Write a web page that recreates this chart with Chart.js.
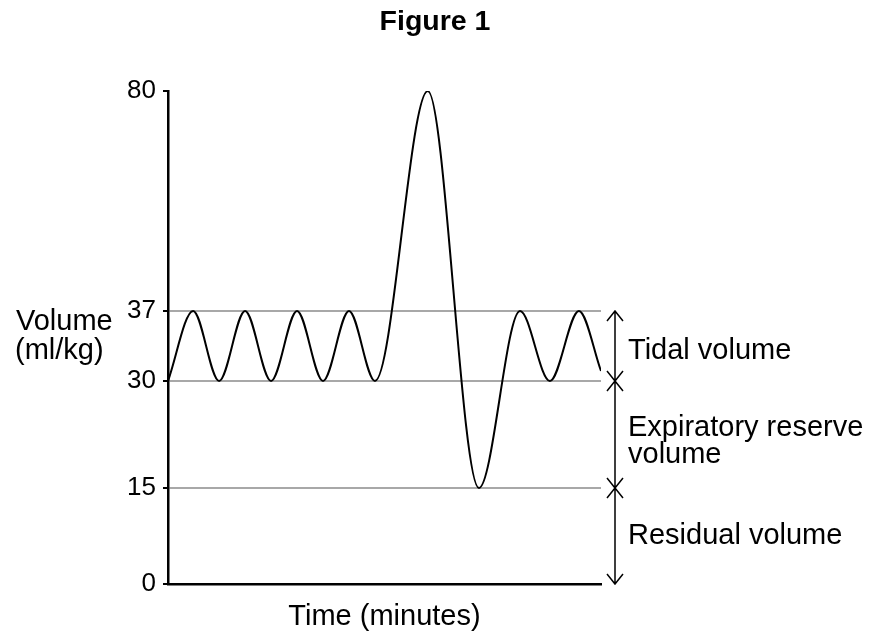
<!DOCTYPE html>
<html>
<head>
<meta charset="utf-8">
<script src="https://cdn.jsdelivr.net/npm/chart.js@4.4.0/dist/chart.umd.min.js"></script>
<style>
  html, body { margin: 0; padding: 0; background: #fff; }
</style>
</head>
<body>
<canvas id="volumeChart" width="870" height="637"></canvas>
<script>
// values
const timePoints = [0, 5.8, 11.8, 17.8, 23.8, 29.8, 35.8, 41.8, 47.8, 60, 71.8, 81.3, 88.2, 94.9, 100];
const volumes = [30, 37, 30, 37, 30, 37, 30, 37, 30, 80, 15, 37, 30, 37, 31];
const yTicks = [0, 15, 30, 37, 80];
const gridValues = [15, 30, 37];
const regionBounds = [[30, 37], [15, 30], [0, 15]];
const regionNames = [["Tidal volume"], ["Expiratory reserve", "volume"], ["Residual volume"]];

const FONT = "'Liberation Sans', Arial, sans-serif";
const labelShift = [5, 7, 0];

// the figure's volume axis is schematic, not linear: each labelled value
// sits at its own height, so the scale maps value -> height piecewise
const breakValues = [0, 15, 30, 37, 80];
const breakHeights = [0, 0.1947, 0.4118, 0.5538, 1];

function toDecimal(v) {
  for (let i = 1; i < breakValues.length; i++) {
    if (v <= breakValues[i] || i === breakValues.length - 1) {
      const t = (v - breakValues[i - 1]) / (breakValues[i] - breakValues[i - 1]);
      return breakHeights[i - 1] + t * (breakHeights[i] - breakHeights[i - 1]);
    }
  }
}
function fromDecimal(d) {
  for (let i = 1; i < breakHeights.length; i++) {
    if (d <= breakHeights[i] || i === breakHeights.length - 1) {
      const t = (d - breakHeights[i - 1]) / (breakHeights[i] - breakHeights[i - 1]);
      return breakValues[i - 1] + t * (breakValues[i] - breakValues[i - 1]);
    }
  }
}

class BreakScale extends Chart.LinearScale {
  getPixelForValue(value) {
    return this.getPixelForDecimal(toDecimal(value));
  }
  getValueForPixel(pixel) {
    return fromDecimal(this.getDecimalForPixel(pixel));
  }
}
BreakScale.id = 'breaks';
BreakScale.defaults = Chart.LinearScale.defaults;
Chart.register(BreakScale);

const sideNotes = {
  id: 'sideNotes',
  afterDraw(chart) {
    const { ctx, chartArea, scales: { y } } = chart;
    const ax = chartArea.right + 14;
    ctx.save();
    ctx.strokeStyle = '#000';
    ctx.lineWidth = 1.5;
    ctx.fillStyle = '#000';
    ctx.font = '29px ' + FONT;
    ctx.textBaseline = 'middle';
    ctx.textAlign = 'left';

    regionBounds.forEach(([lo, hi], i) => {
      const yTop = y.getPixelForValue(hi);
      const yBot = y.getPixelForValue(lo);
      ctx.beginPath();
      ctx.moveTo(ax, yTop);
      ctx.lineTo(ax, yBot);
      ctx.moveTo(ax - 8, yTop + 10);
      ctx.lineTo(ax, yTop);
      ctx.lineTo(ax + 8, yTop + 10);
      ctx.moveTo(ax - 8, yBot - 10);
      ctx.lineTo(ax, yBot);
      ctx.lineTo(ax + 8, yBot - 10);
      ctx.stroke();

      const lines = regionNames[i];
      const mid = (yTop + yBot) / 2 + labelShift[i];
      lines.forEach((txt, j) => {
        ctx.fillText(txt, ax + 13, mid + (j - (lines.length - 1) / 2) * 27);
      });
    });

    // horizontal y-axis title
    const y37 = y.getPixelForValue(37);
    ctx.fillText('Volume', 16, y37 + 11);
    ctx.fillText('(ml/kg)', 15, y37 + 40);
    ctx.restore();
  }
};

new Chart(document.getElementById('volumeChart'), {
  type: 'line',
  data: {
    datasets: [{
      data: timePoints.map((t, i) => ({ x: t, y: volumes[i] })),
      borderColor: '#000',
      borderWidth: 2,
      pointRadius: 0,
      fill: false,
      cubicInterpolationMode: 'monotone'
    }]
  },
  options: {
    responsive: false,
    animation: false,
    layout: { padding: 0 },
    plugins: {
      legend: { display: false },
      tooltip: { enabled: false },
      title: {
        display: true,
        text: 'Figure 1',
        color: '#000',
        font: { family: FONT, size: 28.5, weight: 'bold' },
        padding: { top: 5, bottom: 51.8 }
      }
    },
    scales: {
      x: {
        type: 'linear',
        min: 0,
        max: 100,
        ticks: { display: false },
        grid: { display: false, drawTicks: false },
        border: { color: '#000', width: 2.5 },
        title: {
          display: true,
          text: 'Time (minutes)',
          color: '#000',
          font: { family: FONT, size: 29 },
          padding: { top: 0, bottom: 3 }
        },
        afterFit: s => { s.height = 53; }
      },
      y: {
        type: 'breaks',
        min: 0,
        max: 80,
        afterBuildTicks: s => { s.ticks = yTicks.map(v => ({ value: v })); },
        afterFit: s => { s.width = 168; },
        ticks: {
          color: '#000',
          font: { family: FONT, size: 26 },
          padding: 7,
          autoSkip: false
        },
        grid: {
          color: c => (c.tick && gridValues.includes(c.tick.value)) ? '#a8a8a8' : 'rgba(0,0,0,0)',
          lineWidth: 2,
          tickColor: '#000',
          tickWidth: 2,
          tickLength: 5
        },
        border: { color: '#000', width: 2.5 }
      },
      // empty right-hand strip that holds the arrows and their labels
      side: {
        type: 'linear',
        position: 'right',
        ticks: { display: false },
        grid: { display: false, drawTicks: false },
        border: { display: false },
        afterFit: s => { s.width = 269; }
      }
    }
  },
  plugins: [sideNotes]
});
</script>
</body>
</html>
